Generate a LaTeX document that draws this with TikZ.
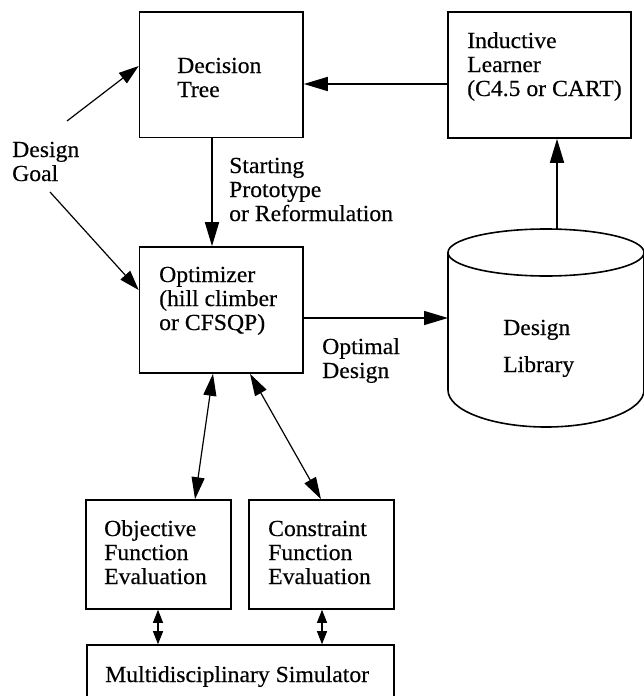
\documentclass[tikz,border=0pt]{standalone}
\usepackage{fontspec}
\setmainfont{Liberation Serif}[FakeStretch=1.03,FakeBold=0.4]
\usetikzlibrary{arrows.meta}
\begin{document}
\begin{tikzpicture}[x=1pt,y=-1pt,
  box/.style={draw,line width=1.6pt,inner sep=0pt},
  txt/.style={anchor=base west,inner sep=0pt,font=\fontsize{23}{24}\selectfont},
  arr/.style={line width=1.6pt,-{Triangle[length=24pt,width=14pt]}},
  thinarr/.style={line width=1.2pt,-{Triangle[length=20pt,width=13pt]}},
  dblarr/.style={line width=1.2pt,{Triangle[length=22pt,width=13pt]}-{Triangle[length=22pt,width=13pt]}},
  smallarr/.style={line width=1.2pt,{Triangle[length=13pt,width=10pt]}-{Triangle[length=13pt,width=10pt]}}]
\useasboundingbox (0,0) rectangle (644,696);
% boxes
\node[box,minimum width=163.5pt,minimum height=125.5pt] (dt) at (221.25,74.75) {};
\node[box,minimum width=183pt,minimum height=126pt] (learner) at (539.5,75) {};
\node[box,minimum width=163.5pt,minimum height=126pt] (opt) at (221.25,310) {};
\node[box,minimum width=145pt,minimum height=109pt] (obj) at (158.5,554.5) {};
\node[box,minimum width=145pt,minimum height=109pt] (con) at (321.5,554.5) {};
\node[box,minimum width=307pt,minimum height=75pt] (sim) at (240.5,682.5) {};
% cylinder
\draw[line width=1.6pt] (448,252.5) -- (448,390)
  .. controls (448,410.4) and (491.9,427) .. (546,427)
  .. controls (600.1,427) and (644,410.4) .. (644,390) -- (644,252.5);
\draw[line width=1.6pt] (546,252.5) ellipse [x radius=98, y radius=23.5];
\coordinate (cyltop) at (557,229);
\coordinate (cylleft) at (448,318);
% texts
\node[txt] (dt1) at (177,73) {Decision};
\node[txt] (dt2) at (177,97) {Tree};
\node[txt] (il1) at (467,48) {Inductive};
\node[txt] (il2) at (467,72) {Learner};
\node[txt] (il3) at (467,96) {(C4.5 or CART)};
\node[txt] (sp1) at (229,173) {Starting};
\node[txt] (sp2) at (229,197) {Prototype};
\node[txt] (sp3) at (229,221) {or Reformulation};
\node[txt] (dg1) at (12,157) {Design};
\node[txt] (dg2) at (12,181) {Goal};
\node[txt] (op1) at (159,282) {Optimizer};
\node[txt] (op2) at (159,306) {(hill climber};
\node[txt] (op3) at (159,330) {or CFSQP)};
\node[txt] (od1) at (322,354) {Optimal};
\node[txt] (od2) at (322,378) {Design};
\node[txt] (dl1) at (503,335) {Design};
\node[txt] (dl2) at (503,372) {Library};
\node[txt] (ob1) at (104,536) {Objective};
\node[txt] (ob2) at (104,560) {Function};
\node[txt] (ob3) at (104,584) {Evaluation};
\node[txt] (co1) at (268,536) {Constraint};
\node[txt] (co2) at (268,560) {Function};
\node[txt] (co3) at (268,584) {Evaluation};
\node[txt] (si1) at (105,682) {Multidisciplinary Simulator};
% connectors
\coordinate (g1) at (67,121);
\coordinate (g2) at (50,192);
\draw[arr] (learner.west |- 0,84) -- (dt.east |- 0,84);
\draw[arr] (dt.south -| 212,0) -- (opt.north -| 212,0);
\draw[arr] (opt.east |- cylleft) -- (cylleft);
\draw[arr] (cyltop) -- (learner.south -| cyltop);
\draw[thinarr] (g1) -- (dt.west |- 0,66);
\draw[thinarr] (g2) -- (opt.west |- 0,290);
\draw[dblarr] (opt.south -| 213,0) -- (obj.north -| 195,0);
\draw[dblarr] (opt.south -| 250,0) -- (con.north -| 321,0);
\draw[smallarr] (obj.south -| 158,0) -- (sim.north -| 158,0);
\draw[smallarr] (con.south -| 322,0) -- (sim.north -| 322,0);
\end{tikzpicture}
\end{document}
